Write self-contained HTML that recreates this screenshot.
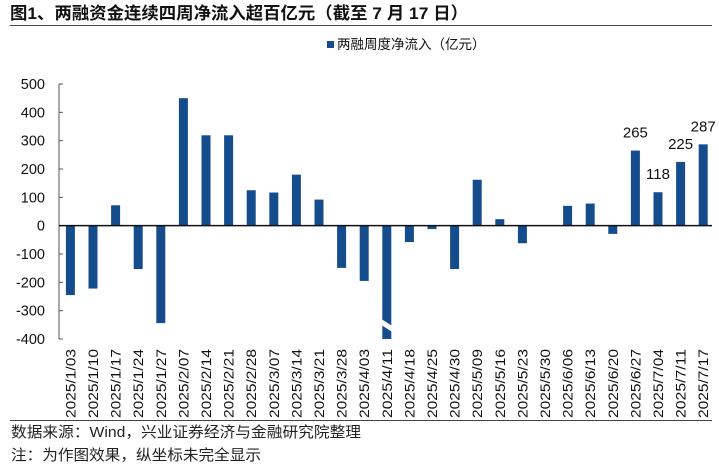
<!DOCTYPE html>
<html><head><meta charset="utf-8"><style>
body{margin:0;background:#fff;}
svg{display:block;font-family:"Liberation Sans","Noto Sans CJK SC",sans-serif;}
</style></head><body>
<svg width="719" height="466" viewBox="0 0 719 466">
<text x="10" y="19" font-size="17" font-weight="bold" fill="#111" textLength="458" lengthAdjust="spacingAndGlyphs">图1、两融资金连续四周净流入超百亿元（截至 7 月 17 日）</text>
<line x1="10" y1="25.5" x2="712" y2="25.5" stroke="#444" stroke-width="1"/>
<rect x="327" y="41" width="7" height="7" fill="#154c8c"/>
<text x="337" y="49" font-size="13.5" fill="#111">两融周度净流入（亿元）</text>
<g id="yaxis"></g>
<g id="bars"></g>
<g id="xaxis"></g>
<line x1="10" y1="420.5" x2="712" y2="420.5" stroke="#444" stroke-width="1"/>
<text x="11" y="437" font-size="15" fill="#222" textLength="350" lengthAdjust="spacingAndGlyphs">数据来源：Wind，兴业证券经济与金融研究院整理</text>
<text x="11" y="460" font-size="15" fill="#222" textLength="250" lengthAdjust="spacingAndGlyphs">注：为作图效果，纵坐标未完全显示</text>
</svg>
<script>
const categories=["2025/1/03","2025/1/10","2025/1/17","2025/1/24","2025/1/27","2025/2/07","2025/2/14","2025/2/21","2025/2/28","2025/3/07","2025/3/14","2025/3/21","2025/3/28","2025/4/03","2025/4/11","2025/4/18","2025/4/25","2025/4/30","2025/5/09","2025/5/16","2025/5/23","2025/5/30","2025/6/06","2025/6/13","2025/6/20","2025/6/27","2025/7/04","2025/7/11","2025/7/17"];
const values=[-245,-222,72,-153,-344,450,319,319,125,117,180,92,-149,-195,-420,-58,-12,-153,162,23,-62,0,70,78,-29,265,118,225,287];
const labeled=[false,false,false,false,false,false,false,false,false,false,false,false,false,false,false,false,false,false,false,false,false,false,false,false,false,true,true,true,true];
const yTicks=[500,400,300,200,100,0,-100,-200,-300,-400];
const NS="http://www.w3.org/2000/svg";
const yMin=-400,yMax=500,yTop=84,yBot=339,xL=59,step=22.6;
function y(v){return yTop+(yMax-Math.max(yMin,Math.min(yMax,v)))/(yMax-yMin)*(yBot-yTop);}
function xc(i){return xL+step*(i+0.5)+0.1;}
function mk(tag,attrs,parent){const e=document.createElementNS(NS,tag);for(const k in attrs)e.setAttribute(k,attrs[k]);parent.appendChild(e);return e;}
const ya=document.getElementById('yaxis'),ba=document.getElementById('bars'),xa=document.getElementById('xaxis');
mk('line',{x1:xL,y1:yTop,x2:xL,y2:yBot,stroke:'#555','stroke-width':1},ya);
yTicks.forEach(t=>{
  const l=mk('line',{x1:xL,y1:y(t),x2:xL+4,y2:y(t),stroke:'#555','stroke-width':1},ya);
  
  
  const tx=mk('text',{x:45,y:y(t)+5,'font-size':14.5,'text-anchor':'end',fill:'#111'},ya);
  tx.textContent=t;
  
  
});
const bw=9;
values.forEach((v,i)=>{
  const y0=y(0),y1=y(v);
  const r=mk('rect',{x:xc(i)-bw/2,y:Math.min(y0,y1),width:bw,height:Math.abs(y1-y0),fill:'#154c8c'},ba);
  
  
  if(v<yMin){
    const g=mk('polygon',{points:`${xc(i)-bw/2-1},${y(v)-20} ${xc(i)+bw/2+1},${y(v)-13} ${xc(i)+bw/2+1},${y(v)-7} ${xc(i)-bw/2-1},${y(v)-14}`,fill:'#fff'},ba);
    
    
  }
  if(labeled[i]){
    const t=mk('text',{x:xc(i),y:y1-13,'font-size':15,'text-anchor':'middle',fill:'#111'},ba);
    t.textContent=v;
    
    
  }
});
mk('line',{x1:xL,y1:y(0),x2:712,y2:y(0),stroke:'#111','stroke-width':1.5},xa);
categories.forEach((c,i)=>{
  const t=mk('text',{x:0,y:0,'font-size':13.5,fill:'#111',textLength:69,lengthAdjust:'spacingAndGlyphs',transform:`translate(${xc(i)+5},418) rotate(-90)`},xa);
  t.textContent=c;
  
  
});
</script>
</body></html>
